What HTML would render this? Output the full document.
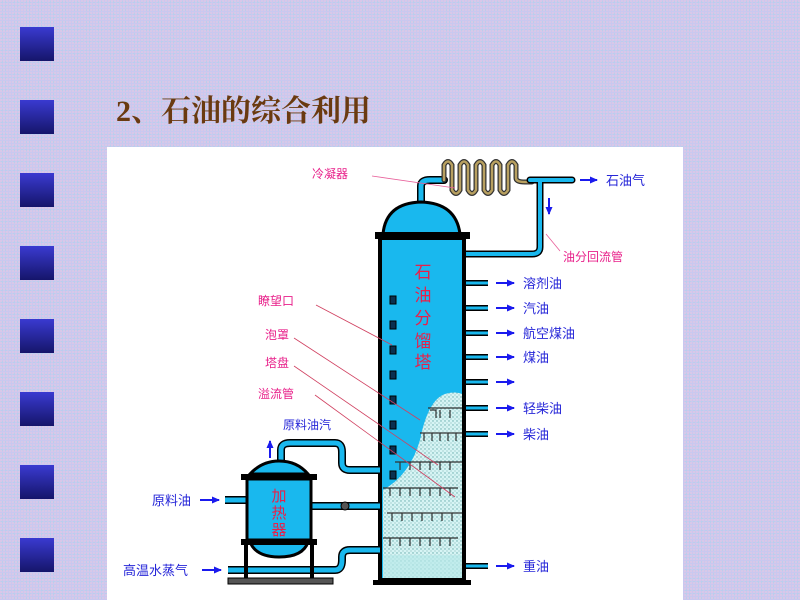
<!DOCTYPE html>
<html><head><meta charset="utf-8"><style>
html,body{margin:0;padding:0;}
body{width:800px;height:600px;position:relative;overflow:hidden;background:#c9c8ef;
background-image:radial-gradient(circle at 1px 1px,#d9c8e8 1px,transparent 1.2px),radial-gradient(circle at 2px 2px,#b8d0ec 1px,transparent 1.2px);background-size:3px 3px,4px 4px;}
.sq{position:absolute;left:20px;width:34px;height:34px;background:linear-gradient(#3a3ad0,#15156a);}
.title{position:absolute;left:116px;top:86px;font:bold 30px "Liberation Serif","Noto Serif CJK SC",serif;color:#6a3a10;}
.panel{position:absolute;left:107px;top:147px;width:576px;height:453px;background:#fff;}
svg{position:absolute;left:0;top:0;}
</style></head><body>
<div class="sq" style="top:27px"></div>
<div class="sq" style="top:100px"></div>
<div class="sq" style="top:173px"></div>
<div class="sq" style="top:246px"></div>
<div class="sq" style="top:319px"></div>
<div class="sq" style="top:392px"></div>
<div class="sq" style="top:465px"></div>
<div class="sq" style="top:538px"></div>
<div class="title">2、石油的综合利用</div>
<div class="panel"></div>
<svg width="800" height="600" viewBox="0 0 800 600">
<defs>
<pattern id="dots" width="4" height="4" patternUnits="userSpaceOnUse"><rect width="4" height="4" fill="#d6f4f4"/><circle cx="1" cy="1" r="0.7" fill="#6aa"/><circle cx="3" cy="3" r="0.6" fill="#8bb"/></pattern>
<marker id="ar" markerUnits="userSpaceOnUse" markerWidth="8" markerHeight="8" refX="7" refY="4" orient="auto"><path d="M0,0.5L8,4L0,7.5z" fill="#1a1aee"/></marker>
</defs>
<g font-family="Liberation Sans,'Noto Sans CJK SC',sans-serif">
<g fill="none" stroke-linecap="round">
<path d="M421,205 V186 Q421,180 430,180 H444" stroke="#000" stroke-width="8"/>
<path d="M421,205 V186 Q421,180 430,180 H444" stroke="#19b8ee" stroke-width="5"/>
<path d="M444,180 V165 Q448,158 452,165 V190 Q456,197 460,190 V165 Q464,158 468,165 V190 Q472,197 476,190 V165 Q480,158 484,165 V190 Q488,197 492,190 V165 Q496,158 500,165 V190 Q504,197 508,190 V165 Q512,158 516,165 V178 Q516,182 525,182 H532" stroke="#333" stroke-width="5"/>
<path d="M444,180 V165 Q448,158 452,165 V190 Q456,197 460,190 V165 Q464,158 468,165 V190 Q472,197 476,190 V165 Q480,158 484,165 V190 Q488,197 492,190 V165 Q496,158 500,165 V190 Q504,197 508,190 V165 Q512,158 516,165 V178 Q516,182 525,182 H532" stroke="#b8a060" stroke-width="2.5"/>
<path d="M530,180 H572 M540,180 V247 Q540,254 532,254 H466" stroke="#000" stroke-width="7"/>
<path d="M530,180 H572 M540,180 V247 Q540,254 532,254 H466" stroke="#19b8ee" stroke-width="4"/>
</g>
<line x1="549" y1="198" x2="549" y2="214" stroke="#1a1aee" stroke-width="2" marker-end="url(#ar)"/>
<line x1="580" y1="180" x2="597" y2="180" stroke="#1a1aee" stroke-width="2" marker-end="url(#ar)"/>
<text x="606" y="185" font-size="13" fill="#2626d8">石油气</text>
<text x="312" y="178" font-size="12" fill="#e8208a">冷凝器</text>
<line x1="372" y1="176" x2="455" y2="188" stroke="#e8609a" stroke-width="0.8"/>
<text x="563" y="261" font-size="12" fill="#e8208a">油分回流管</text>
<line x1="546" y1="234" x2="560" y2="251" stroke="#e8609a" stroke-width="0.8"/>
<path d="M383,234 Q386,203 421,202 Q456,203 460,234 Z" fill="#19b8ee" stroke="#000" stroke-width="3"/>
<rect x="375" y="232" width="95" height="7" fill="#000"/>
<rect x="380" y="238" width="84" height="342" fill="#19b8ee" stroke="#000" stroke-width="4"/>
<path d="M383,490 Q410,475 420,440 Q428,400 445,394 Q455,391 462,394 V578 H383 Z" fill="url(#dots)"/>
<rect x="383" y="555" width="79" height="23" fill="#b8e8e8" opacity="0.7"/>
<g fill="none" stroke="#333" stroke-width="1.2">
<path d="M430,410 h6 v8 M440,410 v8 M450,410 v8 M428,408 h34"/>
<path d="M420,433 h42 M424,433 v8 M432,433 v8 M440,433 v8 M448,433 v8 M456,433 v8"/>
<path d="M395,462 h67 M400,462 v8 M410,462 v8 M420,462 v8 M430,462 v8 M440,462 v8 M450,462 v8"/>
<path d="M383,488 h75 M390,488 v8 M400,488 v8 M410,488 v8 M420,488 v8 M430,488 v8 M440,488 v8 M450,488 v8"/>
<path d="M387,513 h75 M392,513 v8 M402,513 v8 M412,513 v8 M422,513 v8 M432,513 v8 M442,513 v8 M452,513 v8"/>
<path d="M383,538 h75 M390,538 v8 M400,538 v8 M410,538 v8 M420,538 v8 M430,538 v8 M440,538 v8 M450,538 v8"/>
</g>
<rect x="373" y="580" width="98" height="5" fill="#000"/>
<g fill="#0a3050" stroke="#000">
<rect x="390" y="296" width="6" height="8"/><rect x="390" y="321" width="6" height="8"/><rect x="390" y="346" width="6" height="8"/><rect x="390" y="371" width="6" height="8"/><rect x="390" y="396" width="6" height="8"/><rect x="390" y="421" width="6" height="8"/><rect x="390" y="446" width="6" height="8"/><rect x="390" y="471" width="6" height="8"/>
</g>
<g font-size="17" fill="#e8204a" text-anchor="middle">
<text x="423" y="278">石</text><text x="423" y="301">油</text><text x="423" y="324">分</text><text x="423" y="347">馏</text><text x="423" y="368">塔</text>
</g>
<g stroke="#000" stroke-width="6"><path d="M466,283H488M466,308H488M466,333H488M466,357H488M466,382H488M466,408H488M466,434H488M466,566H488"/></g>
<g stroke="#19b8ee" stroke-width="3"><path d="M466,283H488M466,308H488M466,333H488M466,357H488M466,382H488M466,408H488M466,434H488M466,566H488"/></g>
<g stroke="#1a1aee" stroke-width="2" marker-end="url(#ar)">
<line x1="496" y1="283" x2="514" y2="283"/><line x1="496" y1="308" x2="514" y2="308"/><line x1="496" y1="333" x2="514" y2="333"/><line x1="496" y1="357" x2="514" y2="357"/><line x1="496" y1="382" x2="514" y2="382"/><line x1="496" y1="408" x2="514" y2="408"/><line x1="496" y1="434" x2="514" y2="434"/><line x1="496" y1="566" x2="514" y2="566"/>
</g>
<g font-size="13" fill="#2626d8">
<text x="523" y="288">溶剂油</text><text x="523" y="313">汽油</text><text x="523" y="338">航空煤油</text><text x="523" y="362">煤油</text><text x="523" y="413">轻柴油</text><text x="523" y="439">柴油</text><text x="523" y="571">重油</text>
</g>
<g font-size="12" fill="#e8208a">
<text x="258" y="305">瞭望口</text><text x="265" y="339">泡罩</text><text x="265" y="367">塔盘</text><text x="258" y="398">溢流管</text>
</g>
<g stroke="#d04060" stroke-width="0.8">
<line x1="316" y1="305" x2="392" y2="345"/><line x1="294" y1="338" x2="420" y2="420"/><line x1="294" y1="366" x2="438" y2="465"/><line x1="315" y1="395" x2="455" y2="497"/>
</g>
<text x="283" y="429" font-size="12" fill="#2626d8">原料油汽</text>
<line x1="270" y1="458" x2="270" y2="441" stroke="#1a1aee" stroke-width="2" marker-end="url(#ar)"/>
<g fill="none">
<path d="M281,465 V450 Q281,443 290,443 H335 Q342,443 342,452 V463 Q342,470 350,470 H380 M311,506 H380 M228,570 H335 Q342,570 342,560 V557 Q342,550 350,550 H380 M225,500 H246" stroke="#000" stroke-width="8"/>
<path d="M281,465 V450 Q281,443 290,443 H335 Q342,443 342,452 V463 Q342,470 350,470 H380 M311,506 H380 M228,570 H335 Q342,570 342,560 V557 Q342,550 350,550 H380 M225,500 H246" stroke="#19b8ee" stroke-width="5"/>
</g>
<circle cx="345" cy="506" r="4" fill="#555" stroke="#000"/>
<rect x="244" y="540" width="4" height="40" fill="#000"/><rect x="310" y="540" width="4" height="40" fill="#000"/>
<rect x="228" y="578" width="105" height="6" fill="#555" stroke="#000"/>
<path d="M250,474 Q262,461 279,461 Q297,461 308,474 Z" fill="#19b8ee" stroke="#000" stroke-width="3"/>
<path d="M250,542 Q256,557 279,557 Q303,557 308,542 Z" fill="#19b8ee" stroke="#000" stroke-width="3"/>
<rect x="241" y="474" width="76" height="6" fill="#000"/><rect x="241" y="539" width="76" height="6" fill="#000"/>
<rect x="247" y="479" width="64" height="61" fill="#19b8ee" stroke="#000" stroke-width="3"/>
<g font-size="15" fill="#e8204a" text-anchor="middle"><text x="279" y="501">加</text><text x="279" y="518">热</text><text x="279" y="535">器</text></g>
<text x="152" y="505" font-size="13" fill="#2626d8">原料油</text>
<line x1="200" y1="500" x2="219" y2="500" stroke="#1a1aee" stroke-width="2" marker-end="url(#ar)"/>
<text x="123" y="575" font-size="13" fill="#2626d8">高温水蒸气</text>
<line x1="202" y1="570" x2="221" y2="570" stroke="#1a1aee" stroke-width="2" marker-end="url(#ar)"/>
</g>
</svg>
</body></html>
